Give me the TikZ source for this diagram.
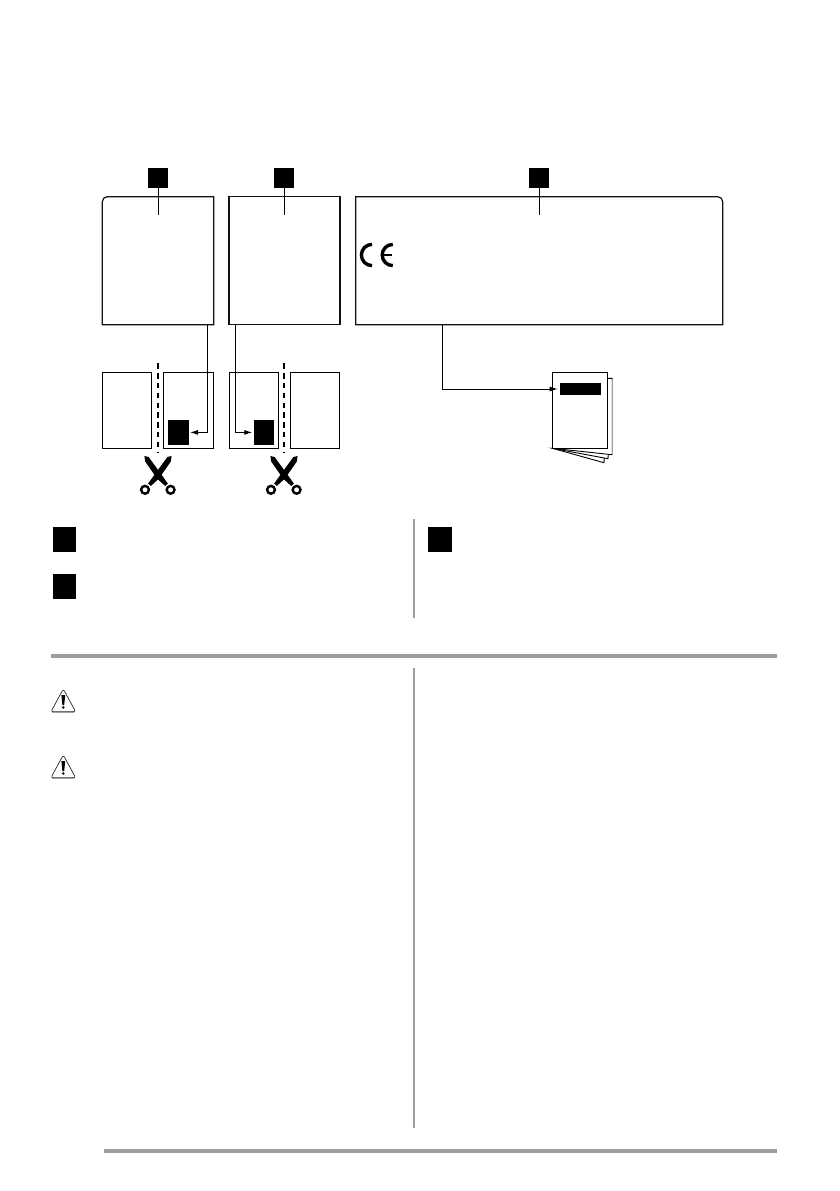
\documentclass[tikz,border=0pt]{standalone}
\usetikzlibrary{arrows.meta}
\definecolor{rulegray}{HTML}{9E9E9E}
\definecolor{inkline}{HTML}{111111}
\tikzset{
  x=1pt,y=-1pt,
  area/.style={inner sep=0pt,outer sep=0pt,line width=1.2pt,draw=inkline},
  outline/.style={line width=1.2pt,draw=inkline,line join=miter},
  sheet/.style={inner sep=0pt,outer sep=0pt,line width=1pt,draw=black,fill=white},
  blackbox/.style={inner sep=0pt,outer sep=0pt,fill=black},
  stem/.style={line width=1pt,draw=black},
  link/.style={line width=1pt,draw=black,-{Latex[length=8pt,width=5pt]}},
  cutline/.style={line width=2.2pt,draw=black,dash pattern=on 5.5pt off 4.3pt},
  rulethick/.style={line width=4pt,draw=rulegray},
  rulethin/.style={line width=2pt,draw=rulegray},
  scissors/.pic={
    \fill[black] (-13.6,-19) -- (-9.4,-18) -- (3,-1) -- (9.8,8.5) -- (7.2,11) -- (-1,3.5) -- (-12.8,-13.5) -- cycle;
    \fill[black] (13.6,-19) -- (9.4,-18) -- (-3,-1) -- (-9.8,8.5) -- (-7.2,11) -- (1,3.5) -- (12.8,-13.5) -- cycle;
    \draw[line width=2.4pt,black,fill=white] (-13,14.8) circle[radius=3.9];
    \draw[line width=2.4pt,black,fill=white] (12.6,14.8) circle[radius=3.9];
  },
  warning/.pic={
    \draw[line width=.7pt,black!85,rounded corners=2.2pt,line join=round] (0,-13) -- (12.4,9.8) -- (-12.4,9.8) -- cycle;
    \draw[line width=1.2pt,rulegray,line cap=round] (-10.5,10.2) -- (10.5,10.2);
    \fill[black] (-1.9,-7) -- (1.9,-7) -- (.9,3) -- (-.9,3) -- cycle;
    \fill[black] (0,5.4) circle[radius=1.4];
  },
}
\begin{document}
\begin{tikzpicture}
\useasboundingbox[fill=white] (0,0) rectangle (839,1191);

% upper label areas
\node[inner sep=0pt,outer sep=0pt,minimum width=111.4pt,minimum height=128pt] (boxa) at (158,260.7) {};
\node[area,minimum width=111pt,minimum height=128pt] (boxb) at (284.5,260.7) {};
\node[inner sep=0pt,outer sep=0pt,minimum width=367pt,minimum height=128pt] (boxc) at (539.2,260.7) {};
\draw[outline] (boxa.south west) [rounded corners=5pt] -- (boxa.north west) -- ([xshift=12pt]boxa.north west) [sharp corners] -- (boxa.north east) -- (boxa.south east) -- cycle;
\draw[outline] (boxc.north west) [rounded corners=5pt] -- (boxc.north east) -- ([yshift=-12pt]boxc.north east) [sharp corners] -- (boxc.south east) -- (boxc.south west) -- cycle;

% black key squares
\node[blackbox,minimum width=20pt,minimum height=20pt] (keya) at (158,178) {};
\node[blackbox,minimum width=20pt,minimum height=20pt] (keyb) at (284,178) {};
\node[blackbox,minimum width=20pt,minimum height=20pt] (keyc) at (539,178) {};
\coordinate (stema) at (158.3,214.7);
\coordinate (stemb) at (284.3,214.7);
\coordinate (stemc) at (539,214.7);
\draw[stem] (keya.south -| stema) -- (stema);
\draw[stem] (keyb.south -| stemb) -- (stemb);
\draw[stem] (keyc.south -| stemc) -- (stemc);

% CE mark
\draw[line width=3.4pt,black] (372,265.6) arc[start angle=90,end angle=270,radius=10.6];
\draw[line width=3.4pt,black] (392.8,265.6) arc[start angle=90,end angle=270,radius=10.6];
\draw[line width=2.8pt,black] (382,255) -- (392,255);

% small sheets
\node[sheet,minimum width=49.4pt,minimum height=76pt] (sheeta) at (127,410.3) {};
\node[sheet,minimum width=50.4pt,minimum height=76pt] (sheetb) at (188.5,410.3) {};
\node[sheet,minimum width=49.4pt,minimum height=76pt] (sheetc) at (254,410.3) {};
\node[sheet,minimum width=49.4pt,minimum height=76pt] (sheetd) at (315,410.3) {};
\node[blackbox,minimum width=21pt,minimum height=24.7pt] (blacka) at (178.5,432.4) {};
\node[blackbox,minimum width=20pt,minimum height=24.7pt] (blackb) at (264,432.4) {};

% cut lines
\coordinate (cuta1) at (158,363.3);
\coordinate (cuta2) at (158,452.7);
\coordinate (cutb1) at (284,363.3);
\coordinate (cutb2) at (284,452.7);
\draw[cutline] (cuta1) -- (cuta2);
\draw[cutline] (cutb1) -- (cutb2);
\pic at (158,475) {scissors};
\pic at (284,475) {scissors};

% document stack
\draw[line width=.9pt,black,fill=white] (552.3,448.3) -- (604,462.7) -- (604.6,450) -- cycle;
\draw[line width=.9pt,black,fill=white] (552.3,448.3) -- (608,458.7) -- (608.6,450) -- cycle;
\draw[line width=.9pt,black,fill=white] (607.7,378.3) -- (612.2,378.3) -- (612.2,454.7) -- (552.3,448.3) -- cycle;
\draw[line width=1pt,rulegray] (612.9,379) -- (612.9,455);
\node[sheet,minimum width=55.4pt,minimum height=76pt] (doc) at (580,410.3) {};
\node[blackbox,minimum width=41pt,minimum height=12pt] (blackc) at (580.5,389) {};

% connectors
\coordinate (lnka) at (207.3,324.7);
\coordinate (lnkb) at (235.3,324.7);
\coordinate (lnkc) at (442.3,324.7);
\draw[link,shorten >=1pt] (lnka) |- (blacka.east);
\draw[link,shorten >=1.7pt] (lnkb) |- (blackb.west);
\draw[link,shorten >=2.3pt] (lnkc) |- (blackc.west);

% key squares of the legend
\node[blackbox,minimum width=23pt,minimum height=25pt] (lega) at (64.5,539.5) {};
\node[blackbox,minimum width=23pt,minimum height=25pt] (legb) at (64.5,586.5) {};
\node[blackbox,minimum width=24pt,minimum height=25pt] (legc) at (440,539.5) {};

% rules
\draw[rulethin] (414,519) -- (414,617.7);
\draw[rulethick] (51,656) -- (777,656);
\draw[rulethin] (414,668) -- (414,1127.7);
\draw[rulethick] (104,1150.7) -- (777,1150.7);

% warning triangles
\pic at (63.3,702) {warning};
\pic at (63.3,768) {warning};
\end{tikzpicture}
\end{document}
